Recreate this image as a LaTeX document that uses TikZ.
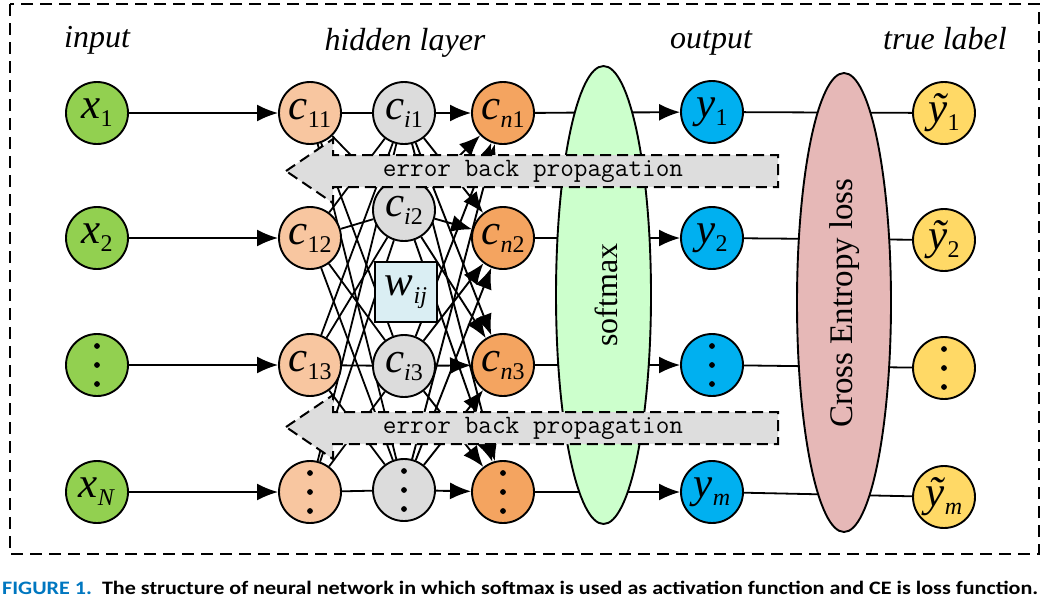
\documentclass[tikz,border=0pt]{standalone}
\usepackage{fontspec}
\usepackage{graphicx}
\setmainfont{Liberation Serif}
\newfontfamily\capfont{Carlito}
\usetikzlibrary{shapes.geometric,arrows.meta}
\pgfdeclarelayer{bg}
\pgfsetlayers{bg,main}
\definecolor{cin}{HTML}{92D050}
\definecolor{cL}{HTML}{F8C6A0}
\definecolor{cM}{HTML}{DCDCDC}
\definecolor{cR}{HTML}{F4A460}
\definecolor{cY}{HTML}{00B0F0}
\definecolor{cT}{HTML}{FFD966}
\definecolor{cSM}{HTML}{CCFFCC}
\definecolor{cCE}{HTML}{E6B8B7}
\definecolor{cW}{HTML}{DAEEF3}
\definecolor{cErr}{HTML}{DDDDDD}
\definecolor{capblue}{HTML}{0077C0}
\newcommand\mylab[2]{#1\raisebox{-8pt}{\fontsize{24}{24}\selectfont\upshape #2}}
\begin{document}
\begin{tikzpicture}[x=1pt,y=-1pt,
  nd/.style={circle,draw,line width=1.9pt,minimum size=62pt,inner sep=0pt,font=\fontsize{43}{43}\selectfont\itshape},
  dotsnode/.style={nd,path picture={\foreach \d in {-19,0,19}{\fill[black] ([yshift=\d pt]path picture bounding box.center) circle (2.9pt);}}},
  arr/.style={line width=1.9pt,-{Latex[length=21pt,width=17pt]}},
  ln/.style={line width=1.8pt},
  title/.style={anchor=base,font=\fontsize{32}{32}\selectfont\itshape},
  errbox/.style={draw,fill=cErr,line width=2pt,dash pattern=on 11pt off 6pt},
  errtext/.style={font=\ttfamily\fontsize{26.5}{26.5}\selectfont},
  bigell/.style={ellipse,draw,line width=1.9pt,inner sep=0pt}
]
\useasboundingbox (0,0) rectangle (1044,600);
% frame
\draw[line width=2.2pt,dash pattern=on 12pt off 7pt] (10,4) rectangle (1039,554);
% titles
\node[title] (tin) at (97,47) {input};
\node[title] (thid) at (405,50) {hidden layer};
\node[title] (tout) at (711,48) {output};
\node[title] (ttrue) at (945,49) {true label};
% ellipses
\node[bigell,fill=cSM,minimum width=95pt,minimum height=458pt] (sm) at (603.5,295) {};
\node[rotate=90,font=\fontsize{32}{32}\selectfont] (smt) at (606,295) {softmax};
\node[bigell,fill=cCE,minimum width=94pt,minimum height=459pt] (ce) at (844,302.5) {};
\node[rotate=90,font=\fontsize{33}{33}\selectfont] (cet) at (845,303) {Cross Entropy loss};
% input
\node[nd,fill=cin] (x1) at (97,113) {\mylab{x}{1}};
\node[nd,fill=cin] (x2) at (97,238) {\mylab{x}{2}};
\node[dotsnode,fill=cin] (x3) at (97,365) {};
\node[nd,fill=cin] (x4) at (97,492) {\mylab{x}{\textit{N}}};
% hidden left
\node[nd,fill=cL] (L1) at (310,113) {\mylab{c}{11}};
\node[nd,fill=cL] (L2) at (310,238) {\mylab{c}{12}};
\node[nd,fill=cL] (L3) at (310,365) {\mylab{c}{13}};
\node[dotsnode,fill=cL] (L4) at (310,492) {};
% hidden middle
\node[nd,fill=cM] (M1) at (404,113) {\mylab{c}{\textit{i}1}};
\node[nd,fill=cM] (M2) at (404,210) {\mylab{c}{\textit{i}2}};
\node[nd,fill=cM] (M3) at (404,366) {\mylab{c}{\textit{i}3}};
\node[dotsnode,fill=cM] (M4) at (404,490) {};
% hidden right
\node[nd,fill=cR] (R1) at (503,113) {\mylab{c}{\textit{n}1}};
\node[nd,fill=cR] (R2) at (503,238) {\mylab{c}{\textit{n}2}};
\node[nd,fill=cR] (R3) at (503,365) {\mylab{c}{\textit{n}3}};
\node[dotsnode,fill=cR] (R4) at (503,492) {};
% weight box
\node[draw,fill=cW,line width=1.9pt,minimum width=62pt,minimum height=60pt,inner sep=0pt,font=\fontsize{43}{43}\selectfont\itshape] (W) at (406,292) {\mylab{w}{\textit{ij}}};
% outputs
\node[nd,fill=cY] (Y1) at (712,112) {\mylab{y}{1}};
\node[nd,fill=cY] (Y2) at (712,238) {\mylab{y}{2}};
\node[dotsnode,fill=cY] (Y3) at (712,365) {};
\node[nd,fill=cY] (Y4) at (712,492) {\mylab{y}{\textit{m}}};
% true labels
\node[nd,fill=cT] (T1) at (944,113) {\mylab{ỹ}{1}};
\node[nd,fill=cT] (T2) at (944,240) {\mylab{ỹ}{2}};
\node[dotsnode,fill=cT] (T3) at (944,368) {};
\node[nd,fill=cT] (T4) at (944,497) {\mylab{ỹ}{\textit{m}}};
% connections
\begin{pgfonlayer}{bg}
\foreach \r in {1,...,4}{
  \draw[arr] (x\r) -- (L\r);
  \foreach \s in {1,...,4}{
    \draw[ln] (L\r) -- (M\s);
    \draw[arr] (M\r) -- (R\s);
  }
  \draw[arr] (R\r) -- (Y\r);
  \draw[ln] (Y\r) -- (T\r);
}
\end{pgfonlayer}
% error back propagation arrows
\draw[errbox] (286,171) -- (333,139) -- (333,155) -- (778,155) -- (778,187) -- (333,187) -- (333,203) -- cycle;
\node[errtext] (e1) at (533,171) {error back propagation};
\draw[errbox] (286,427) -- (333,395) -- (333,412) -- (778,412) -- (778,444) -- (333,444) -- (333,459) -- cycle;
\node[errtext] (e2) at (533,428) {error back propagation};
% caption
\node[anchor=base west,inner sep=0pt] (cap) at (2,594) {\resizebox{1036pt}{\height}{\capfont\bfseries\fontsize{19}{19}\selectfont\textcolor{capblue}{FIGURE 1.}\ \ The structure of neural network in which softmax is used as activation function and CE is loss function.}};
\end{tikzpicture}
\end{document}
